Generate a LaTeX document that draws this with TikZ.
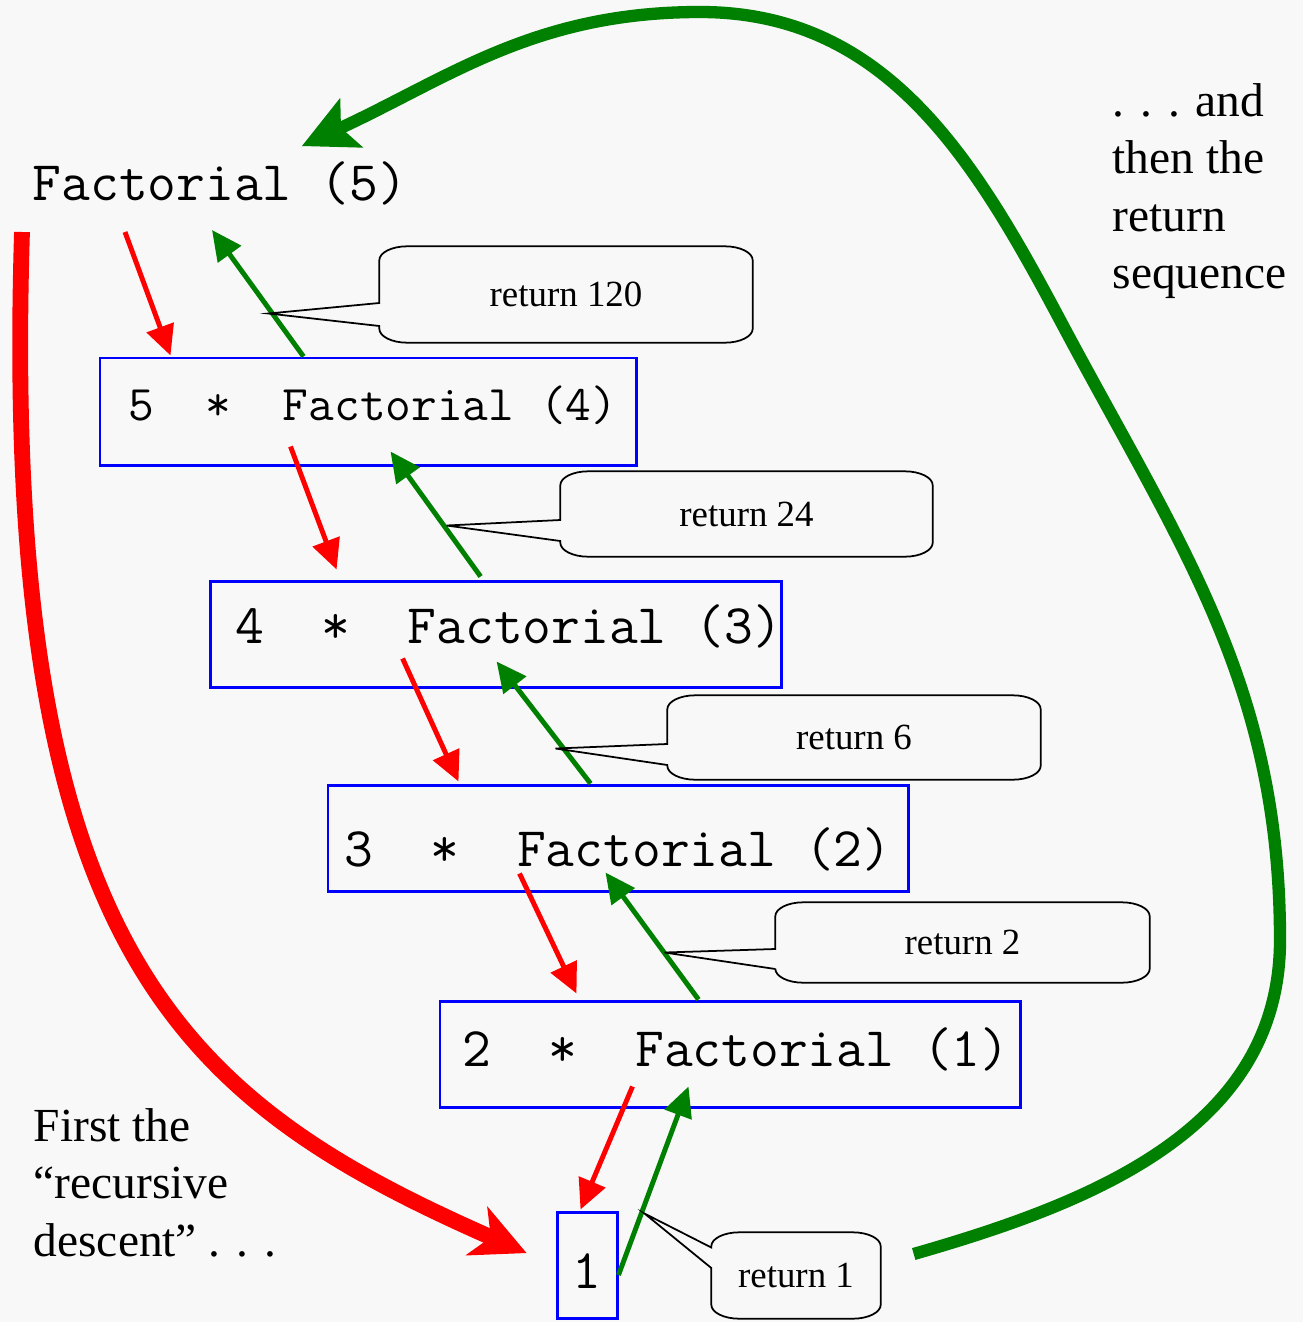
\documentclass[tikz,border=0pt]{standalone}
\usepackage{fontspec}
\setmainfont{Liberation Serif}
\usetikzlibrary{arrows.meta,calc}
\definecolor{paper}{HTML}{F8F8F8}
\definecolor{callred}{HTML}{FF0000}
\definecolor{retgreen}{HTML}{008000}
\definecolor{boxblue}{HTML}{0000FF}

\begin{document}
\begin{tikzpicture}[
  box/.style={draw=boxblue,line width=0.85pt,inner sep=0pt,minimum height=1.06cm,text depth=0.1cm,font=\ttfamily\fontsize{15.9}{18}\selectfont},
  bubble/.style={inner sep=0pt,font=\fontsize{10.5}{12.6}\selectfont},
  outline/.style={draw=black,line width=0.5pt},
  note/.style={inner sep=0pt,align=left,font=\fontsize{13.5}{16.3}\selectfont},
  down/.style={-{Triangle[length=3mm,width=2.8mm]},callred,line width=1.4pt},
  up/.style={-{Triangle[length=3mm,width=2.8mm]},retgreen,line width=1.4pt},
  descent/.style={-{Stealth[length=5.5mm,width=5.4mm,inset=1.6mm,line width=0pt]},callred,line width=4.5pt},
  ascent/.style={-{Stealth[length=5.5mm,width=5.5mm,inset=1.2mm,line width=0pt]},retgreen,line width=3.5pt}]

  \fill[paper] (0,0) rectangle (13.03,-13.22);
  \useasboundingbox (0,0) rectangle (13.03,-13.22);

  \node[inner sep=0pt,anchor=base west,font=\ttfamily\fontsize{15.9}{18}\selectfont] (f5) at (0.32,-2.00) {Factorial (5)};
  \node[box,minimum width=5.36cm,minimum height=1.07cm,text height=0.28cm,font=\ttfamily\fontsize{14.2}{16}\selectfont] (b4) at (3.68,-4.115) {\hspace*{0.1cm}5~~*~~Factorial~(4)};
  \node[box,minimum width=5.68cm,text height=0.28cm] (b3) at (4.96,-6.34) {\hspace*{0.25cm}4~~*~~Factorial~(3)};
  \node[box,minimum width=5.80cm,text height=0.66cm] (b2) at (6.18,-8.38) {3~~*~~Factorial~(2)};
  \node[box,minimum width=5.80cm,text height=0.34cm] (b1) at (7.30,-10.54) {\hspace*{0.12cm}2~~*~~Factorial~(1)};
  \node[box,minimum width=0.60cm,text height=0.56cm] (b0) at (5.87,-12.65) {1};

  \node[bubble,minimum width=3.72cm,minimum height=0.95cm] (r120) at (5.66,-2.945) {return 120};
  \node[bubble,minimum width=3.71cm,minimum height=0.84cm] (r24) at (7.465,-5.14) {return 24};
  \node[bubble,minimum width=3.72cm,minimum height=0.83cm] (r6) at (8.54,-7.375) {return 6};
  \node[bubble,minimum width=3.73cm,minimum height=0.79cm] (r2) at (9.625,-9.425) {return 2};
  \node[bubble,minimum width=1.68cm,minimum height=0.85cm] (r1) at (7.96,-12.755) {return 1};

  \node[note,anchor=north west] (first) at (0.33,-11.08) {First the\\“recursive\\descent” . . .};
  \node[note,anchor=north west] (then) at (11.12,-0.83) {. . . and\\then the\\return\\sequence};

  \draw[down] ($(f5.base west)+(0.93,-0.32)$) -- ($(b4.north west)+(0.72,0.01)$);
  \draw[down] ($(b4.south west)+(1.92,0.20)$) -- ($(b3.north west)+(1.28,0.10)$);
  \draw[down] ($(b3.south west)+(1.94,0.30)$) -- ($(b2.north west)+(1.32,0.02)$);
  \draw[down] ($(b2.south west)+(1.93,0.19)$) -- ($(b1.north west)+(1.38,0.06)$);
  \draw[down] ($(b1.south west)+(1.94,0.22)$) -- ($(b0.north west)+(0.25,0.01)$);

  \draw[up] ($(b4.north west)+(2.05,0)$) -- ($(f5.base west)+(1.80,-0.30)$);
  \draw[up] ($(b3.north west)+(2.72,0.03)$) -- ($(b4.south west)+(2.92,0.15)$);
  \draw[up] ($(b2.north west)+(2.64,0)$) -- ($(b3.south west)+(2.88,0.27)$);
  \draw[up] ($(b1.north west)+(2.60,0)$) -- ($(b2.south west)+(2.79,0.20)$);
  \draw[up] ($(b0.east)+(0,-0.10)$) -- ($(b1.south west)+(2.50,0.22)$);

  \coordinate (c120) at ($(b4.north west)+(1.70,0.43)$);
  \coordinate (c24) at ($(b3.north west)+(2.38,0.54)$);
  \coordinate (c6) at ($(b2.north west)+(2.29,0.35)$);
  \coordinate (c2) at ($(b1.north west)+(2.26,0.47)$);
  \coordinate (c1) at ($(b0.north east)+(0.26,-0.03)$);

  \foreach \n/\tp/\ya/\yb in {r120/c120/-0.085/-0.315,r24/c24/-0.06/-0.27,r6/c6/-0.065/-0.275,r2/c2/-0.065/-0.265,r1/c1/0.28/0.075}
    \draw[outline] ($(\n.west)+(0,\ya)$) -- ($(\n.north west)+(0,-0.14)$)
      arc[start angle=180,end angle=90,x radius=0.28,y radius=0.14]
      -- ($(\n.north east)+(-0.28,0)$)
      arc[start angle=90,end angle=0,x radius=0.28,y radius=0.14]
      -- ($(\n.south east)+(0,0.14)$)
      arc[start angle=0,end angle=-90,x radius=0.28,y radius=0.14]
      -- ($(\n.south west)+(0.28,0)$)
      arc[start angle=-90,end angle=-180,x radius=0.28,y radius=0.14]
      -- ($(\n.west)+(0,\yb)$) -- (\tp) -- cycle;

  \draw[descent] ($(f5.base west)+(-0.10,-0.32)$) .. controls (0.0,-9.5) and (1.8,-11.0) .. ($(b0.west)+(-0.29,0.12)$);
  \draw[ascent] ($(r1.east)+(0.33,0.215)$) to[out=16,in=-90] (12.8,-9.4) to[out=90,in=-62] (10.6,-3.2)
    to[out=118,in=0] (7.0,-0.12) to[out=180,in=25] ($(f5.base west)+(2.70,0.54)$);
\end{tikzpicture}
\end{document}
